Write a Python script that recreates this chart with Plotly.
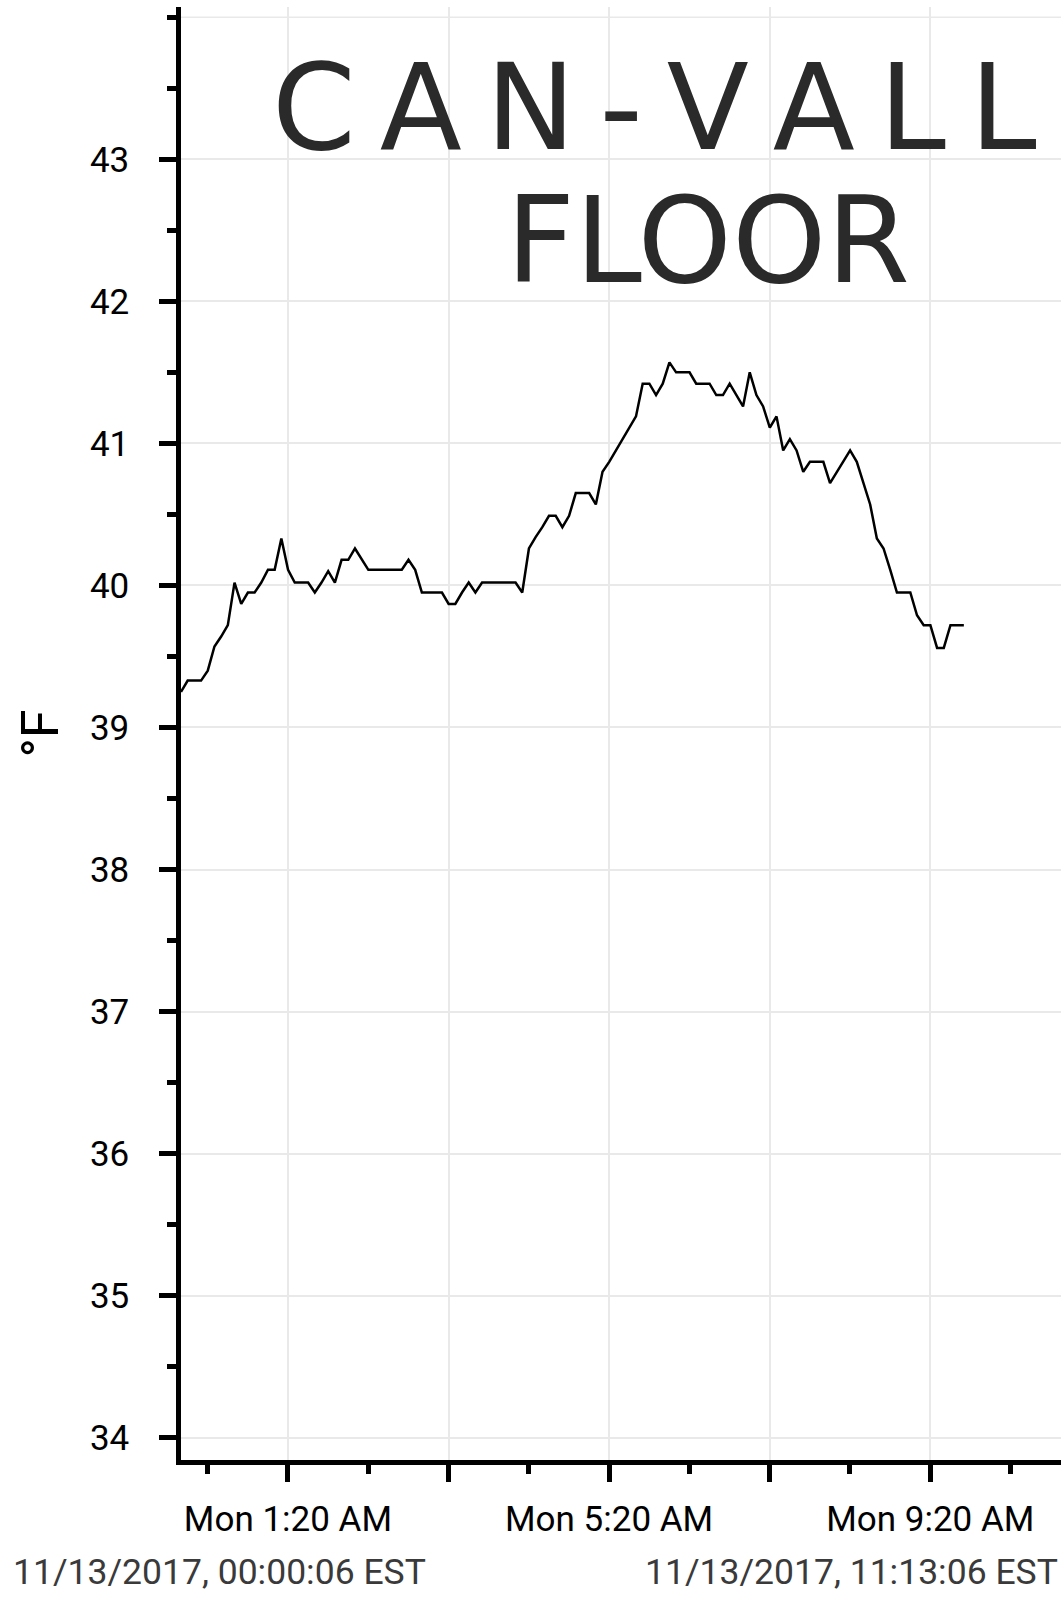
import pandas as pd
import plotly.graph_objects as go

# ---- data (5-minute readings, °F) ----
start_time = "2017-11-13 00:00:06"
interval = "5min"
temps_f = [
    39.25, 39.33, 39.33, 39.33, 39.40, 39.57, 39.64, 39.72, 40.02, 39.87,
    39.95, 39.95, 40.02, 40.11, 40.11, 40.33, 40.11, 40.02, 40.02, 40.02,
    39.95, 40.02, 40.10, 40.02, 40.18, 40.18, 40.26, 40.18, 40.11, 40.11,
    40.11, 40.11, 40.11, 40.11, 40.18, 40.11, 39.95, 39.95, 39.95, 39.95,
    39.87, 39.87, 39.95, 40.02, 39.95, 40.02, 40.02, 40.02, 40.02, 40.02,
    40.02, 39.95, 40.26, 40.34, 40.41, 40.49, 40.49, 40.41, 40.49, 40.65,
    40.65, 40.65, 40.57, 40.80, 40.87, 40.95, 41.03, 41.11, 41.19, 41.42,
    41.42, 41.34, 41.42, 41.57, 41.50, 41.50, 41.50, 41.42, 41.42, 41.42,
    41.34, 41.34, 41.42, 41.34, 41.26, 41.50, 41.34, 41.26, 41.11, 41.19,
    40.95, 41.03, 40.95, 40.80, 40.87, 40.87, 40.87, 40.72, 40.80, 40.87,
    40.95, 40.87, 40.72, 40.57, 40.33, 40.26, 40.11, 39.95, 39.95, 39.95,
    39.79, 39.72, 39.72, 39.56, 39.56, 39.72, 39.72, 39.72,
]
times = pd.date_range(start=start_time, periods=len(temps_f), freq=interval)

x_range = ["2017-11-13 00:00:06", "2017-11-13 10:57:42"]
x_tick_vals = ["2017-11-13 01:20", "2017-11-13 03:20", "2017-11-13 05:20",
               "2017-11-13 07:20", "2017-11-13 09:20"]
x_tick_labels = ["Mon 1:20 AM", "", "Mon 5:20 AM", "", "Mon 9:20 AM"]
x_minor_vals = ["2017-11-13 00:20", "2017-11-13 02:20", "2017-11-13 04:20",
                "2017-11-13 06:20", "2017-11-13 08:20", "2017-11-13 10:20"]

y_range = [33.843, 44.072]
y_tick_vals = [34, 35, 36, 37, 38, 39, 40, 41, 42, 43]
y_tick_labels = [str(v) for v in y_tick_vals]
y_minor_vals = [34.5, 35.5, 36.5, 37.5, 38.5, 39.5, 40.5, 41.5, 42.5, 43.5, 44]
y_top_grid = 44

y_title = "°F"
start_label = "11/13/2017, 00:00:06 EST"
end_label = "11/13/2017, 11:13:06 EST"
TS = "\u2009"  # thin space, mimics the loose hand-lettering
note_line1 = TS.join("CAN-VALL")
note_line2 = "FLOOR"

GRID = "#e9e9e9"
FONT = "Roboto"

fig = go.Figure()
fig.add_trace(go.Scatter(
    x=times, y=temps_f, mode="lines",
    line=dict(color="#000000", width=2.5),
    showlegend=False, hoverinfo="skip",
))

fig.update_layout(
    width=1061, height=1605,
    margin=dict(l=181, r=0, t=7, b=145),
    paper_bgcolor="white", plot_bgcolor="white",
    font=dict(family=FONT, color="#000000"),
    showlegend=False,
)

fig.update_xaxes(
    type="date", range=x_range, automargin=False,
    tickmode="array", tickvals=x_tick_vals, ticktext=x_tick_labels,
    ticks="outside", ticklen=17, tickwidth=4.5, tickcolor="#000000",
    tickfont=dict(family=FONT, size=35, color="#000000"),
    ticklabelstandoff=7,
    showgrid=True, gridcolor=GRID, gridwidth=1.5,
    showline=True, linecolor="#000000", linewidth=4.5,
    zeroline=False,
    minor=dict(tickmode="array", tickvals=x_minor_vals, ticks="outside",
               ticklen=9, tickwidth=4.5, tickcolor="#000000", showgrid=False),
)

fig.update_yaxes(
    range=y_range, automargin=False,
    tickmode="array", tickvals=y_tick_vals, ticktext=y_tick_labels,
    ticks="outside", ticklen=17, tickwidth=4.5, tickcolor="#000000",
    tickfont=dict(family=FONT, size=35, color="#000000"),
    ticklabelstandoff=23,
    showgrid=True, gridcolor=GRID, gridwidth=1.5,
    showline=True, linecolor="#000000", linewidth=4.5,
    zeroline=False,
    title=dict(text=y_title, font=dict(family=FONT, size=52, color="#000000"),
               standoff=16),
    minor=dict(tickmode="array", tickvals=y_minor_vals, ticks="outside",
               ticklen=9, tickwidth=4.5, tickcolor="#000000", showgrid=False),
)

fig.add_shape(type="line", xref="paper", yref="y", x0=0, x1=1,
              y0=y_top_grid, y1=y_top_grid,
              line=dict(color=GRID, width=1.5), layer="below")

fig.add_annotation(text=start_label, xref="paper", yref="paper", x=0, y=0,
                   xanchor="left", yanchor="middle", xshift=-170, yshift=-112,
                   showarrow=False,
                   font=dict(family=FONT, size=35.5, color="#3a3a3a"))
fig.add_annotation(text=end_label, xref="paper", yref="paper", x=1, y=0,
                   xanchor="right", yanchor="middle", xshift=-1, yshift=-112,
                   showarrow=False,
                   font=dict(family=FONT, size=35.5, color="#3a3a3a"))

fig.add_annotation(text=note_line1, xref="paper", yref="paper", x=0.538, y=1,
                   xanchor="center", yanchor="middle", yshift=-100,
                   showarrow=False,
                   font=dict(family="DejaVu Sans", size=120, color="#2a2a2a"))
fig.add_annotation(text=note_line2, xref="paper", yref="paper", x=0.599, y=1,
                   xanchor="center", yanchor="middle", yshift=-233,
                   showarrow=False,
                   font=dict(family="DejaVu Sans", size=120, color="#2a2a2a"))

fig.write_html("out.html", config={"displayModeBar": False},
               post_script="document.body.style.margin='0';")
